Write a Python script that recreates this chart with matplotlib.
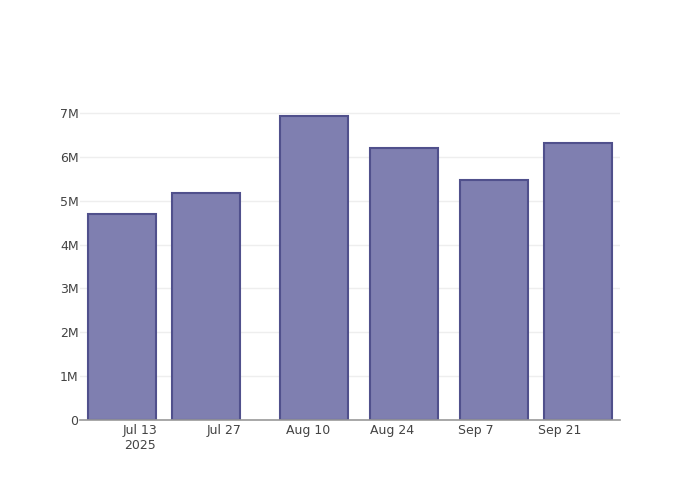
import matplotlib.pyplot as plt
import matplotlib.dates as mdates
import pandas as pd

# bar dates and values
dates = pd.to_datetime(['2025-07-10', '2025-07-24', '2025-08-11',
                        '2025-08-26', '2025-09-10', '2025-09-24'])
values = [4.70e6, 5.18e6, 6.93e6, 6.20e6, 5.47e6, 6.32e6]

tick_dates = pd.to_datetime(['2025-07-13', '2025-07-27', '2025-08-10',
                             '2025-08-24', '2025-09-07', '2025-09-21'])
tick_labels = ['Jul 13\n2025', 'Jul 27', 'Aug 10', 'Aug 24', 'Sep 7', 'Sep 21']
y_ticks = [0, 1e6, 2e6, 3e6, 4e6, 5e6, 6e6, 7e6]
y_labels = ['0', '1M', '2M', '3M', '4M', '5M', '6M', '7M']

fig = plt.figure(figsize=(7, 5), dpi=100)
# plot area: 80..620 px wide, 100..420 px tall
ax = fig.add_axes([80 / 700, 80 / 500, 540 / 700, 320 / 500])

ax.bar(
    mdates.date2num(dates),
    values,
    width=11.2,
    color='#7f7fb0',
    edgecolor='#50508c',
    linewidth=1.5,
    zorder=3
)

ax.set_xlim(mdates.date2num(pd.Timestamp('2025-07-03')),
            mdates.date2num(pd.Timestamp('2025-10-01')))
ax.set_ylim(0, 7.3e6)

ax.set_xticks(mdates.date2num(tick_dates))
ax.set_xticklabels(tick_labels)
ax.set_yticks(y_ticks)
ax.set_yticklabels(y_labels)

ax.grid(axis='y', color='#eeeeee', linewidth=1, zorder=0)
ax.tick_params(length=0, labelsize=9, labelcolor='#444444')
ax.tick_params(axis='y', pad=1)
ax.tick_params(axis='x', pad=3)

for side in ['top', 'right', 'left']:
    ax.spines[side].set_visible(False)
ax.spines['bottom'].set_color('#999999')
ax.spines['bottom'].set_linewidth(1.2)
ax.spines['bottom'].set_zorder(4)

fig.savefig('out.png', dpi=100)
